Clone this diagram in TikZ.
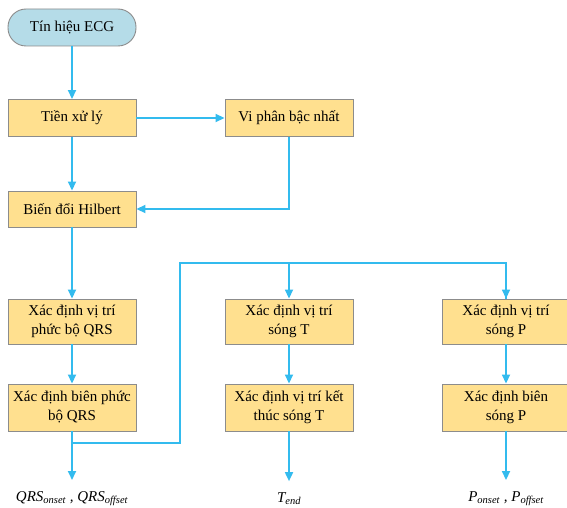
\documentclass[tikz,border=0pt]{standalone}
\usepackage{fontspec}
\setmainfont{Liberation Serif}
\usetikzlibrary{positioning, arrows.meta}
\definecolor{boxfill}{HTML}{FFE08F}
\definecolor{startfill}{HTML}{B5DCE8}
\definecolor{edgegray}{HTML}{8C8C8C}
\definecolor{flowblue}{HTML}{33BBEE}
\tikzset{
  stepbox/.style={draw=edgegray, fill=boxfill, line width=0.9pt, minimum width=128pt, minimum height=37pt, align=center, inner sep=2pt, font=\fontsize{15}{19}\selectfont},
  startbox/.style={stepbox, fill=startfill, rounded corners=18pt},
  outlabel/.style={font=\fontsize{15}{19}\selectfont\itshape, inner sep=0pt},
  flow/.style={draw=flowblue, line width=1.7pt, -{Triangle[length=9pt, width=8pt]}},
  busline/.style={draw=flowblue, line width=1.7pt}
}
\begin{document}
\begin{tikzpicture}[x=1pt, y=-1pt, on grid, node distance=90pt]
  \useasboundingbox (0,0) rectangle (567,508);
  \node[startbox] (start) at (72,27.5) {Tín hiệu ECG};
  \node[stepbox] (pre) [below=90.5pt of start] {Tiền xử lý};
  \node[stepbox] (diff) [right=217pt of pre] {Vi phân bậc nhất};
  \node[stepbox, minimum height=36pt] (hil) [below=91pt of pre] {Biến đổi Hilbert};
  \node[stepbox, minimum height=45pt] (qrsA) [below=112.5pt of hil] {Xác định vị trí\\phức bộ QRS};
  \node[stepbox, minimum height=47pt] (qrsB) [below=86pt of qrsA] {Xác định biên phức\\bộ QRS};
  \node[stepbox, minimum height=45pt] (tA) [right=217pt of qrsA] {Xác định vị trí\\sóng T};
  \node[stepbox, minimum height=47pt] (tB) [right=217pt of qrsB] {Xác định vị trí kết\\thúc sóng T};
  \node[stepbox, minimum height=45pt] (pA) [right=217pt of tA] {Xác định vị trí\\sóng P};
  \node[stepbox, minimum height=47pt] (pB) [right=217pt of tB] {Xác định biên\\sóng P};
  % outputs
  \node[outlabel] (qrsOut) [below=91pt of qrsB] {QRS\textsubscript{onset} , QRS\textsubscript{offset}};
  \node[outlabel] (tOut) [below=91pt of tB] {T\textsubscript{end}};
  \node[outlabel] (pOut) [below=91pt of pB] {P\textsubscript{onset} , P\textsubscript{offset}};
  % bus to T and P branches
  \coordinate (join) at (72,443);
  \coordinate (busLow) at (180,443);
  \coordinate (busTop) at (180,263);
  \path[flow] (start) -- (pre);
  \path[flow] (pre) -- (diff);
  \path[flow] (pre) -- (hil);
  \path[flow] (diff.south) |- (hil.east);
  \path[flow] (hil) -- (qrsA);
  \path[flow] (qrsA) -- (qrsB);
  \path[flow, shorten >=11pt] (qrsB) -- (qrsOut);
  \path[busline] (join) -- (busLow) -- (busTop) -| (pA.north);
  \path[flow] (busTop) -| (tA.north);
  \path[flow] (busTop) -| (pA.north);
  \path[flow] (tA) -- (tB);
  \path[flow, shorten >=11pt] (tB) -- (tOut);
  \path[flow] (pA) -- (pB);
  \path[flow, shorten >=11pt] (pB) -- (pOut);
\end{tikzpicture}
\end{document}
